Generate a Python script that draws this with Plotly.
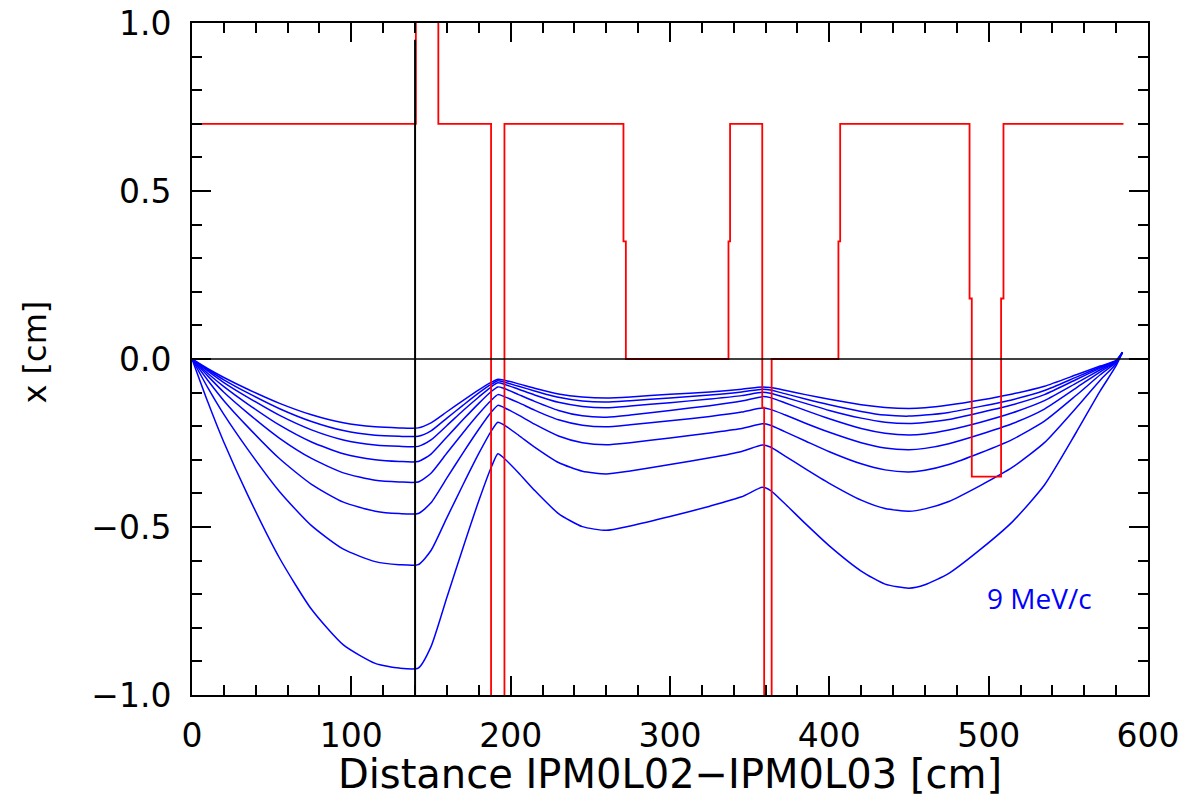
import plotly.graph_objects as go

# ---------------- data ----------------
dist = [0, 10, 20, 35, 55, 75, 95, 115, 130, 142, 150, 160, 170, 180, 188, 192,
        196, 205, 215, 230, 245, 260, 275, 300, 325, 345, 358, 363, 372, 385,
        400, 420, 435, 450, 460, 475, 495, 515, 535, 555, 570, 580, 584]

traj_1 = [0, -0.029, -0.055, -0.090, -0.132, -0.166, -0.190, -0.202, -0.205, -0.205,
          -0.190, -0.157, -0.124, -0.092, -0.069, -0.060,
          -0.063, -0.074, -0.087, -0.104, -0.113, -0.116,
          -0.113, -0.105, -0.098, -0.090, -0.083,
          -0.085, -0.093, -0.106, -0.120, -0.136, -0.144, -0.147,
          -0.145, -0.137, -0.122, -0.104, -0.081, -0.047, -0.021, -0.004, 0.02]
traj_2 = [0, -0.032, -0.062, -0.101, -0.148, -0.186, -0.213, -0.227, -0.230, -0.230,
          -0.214, -0.176, -0.138, -0.101, -0.075, -0.065,
          -0.069, -0.081, -0.095, -0.114, -0.125, -0.128,
          -0.124, -0.116, -0.107, -0.098, -0.090,
          -0.092, -0.103, -0.119, -0.136, -0.156, -0.167, -0.170,
          -0.167, -0.159, -0.141, -0.121, -0.094, -0.054, -0.024, -0.005, 0.02]
traj_3 = [0, -0.036, -0.070, -0.114, -0.168, -0.211, -0.241, -0.256, -0.260, -0.260,
          -0.241, -0.198, -0.154, -0.113, -0.082, -0.071,
          -0.075, -0.090, -0.107, -0.129, -0.141, -0.145,
          -0.140, -0.130, -0.119, -0.109, -0.099,
          -0.102, -0.114, -0.132, -0.153, -0.176, -0.188, -0.192,
          -0.189, -0.180, -0.159, -0.136, -0.106, -0.061, -0.027, -0.006, 0.02]
traj_4 = [0, -0.043, -0.082, -0.134, -0.197, -0.247, -0.282, -0.300, -0.305, -0.305,
          -0.283, -0.232, -0.181, -0.132, -0.096, -0.083,
          -0.088, -0.106, -0.126, -0.153, -0.169, -0.173,
          -0.167, -0.153, -0.139, -0.125, -0.112,
          -0.115, -0.130, -0.153, -0.178, -0.207, -0.221, -0.226,
          -0.223, -0.211, -0.188, -0.160, -0.124, -0.072, -0.032, -0.007, 0.02]
traj_5 = [0, -0.051, -0.099, -0.161, -0.236, -0.296, -0.339, -0.361, -0.366, -0.366,
          -0.340, -0.280, -0.220, -0.163, -0.122, -0.106,
          -0.112, -0.130, -0.152, -0.181, -0.197, -0.202,
          -0.196, -0.184, -0.171, -0.158, -0.146,
          -0.150, -0.166, -0.191, -0.218, -0.249, -0.265, -0.270,
          -0.266, -0.252, -0.224, -0.192, -0.149, -0.086, -0.038, -0.008, 0.02]
traj_6 = [0, -0.064, -0.124, -0.202, -0.297, -0.373, -0.426, -0.453, -0.460, -0.460,
          -0.428, -0.354, -0.280, -0.209, -0.157, -0.138,
          -0.145, -0.167, -0.194, -0.229, -0.249, -0.255,
          -0.249, -0.235, -0.220, -0.207, -0.193,
          -0.197, -0.216, -0.244, -0.276, -0.312, -0.330, -0.336,
          -0.331, -0.314, -0.279, -0.239, -0.185, -0.108, -0.047, -0.010, 0.02]
traj_7 = [0, -0.086, -0.165, -0.269, -0.395, -0.496, -0.566, -0.603, -0.612, -0.612,
          -0.570, -0.472, -0.375, -0.281, -0.213, -0.188,
          -0.197, -0.227, -0.262, -0.308, -0.334, -0.342,
          -0.333, -0.314, -0.294, -0.275, -0.256,
          -0.262, -0.288, -0.327, -0.370, -0.420, -0.445, -0.453,
          -0.446, -0.424, -0.376, -0.322, -0.249, -0.145, -0.063, -0.014, 0.02]
traj_8 = [0, -0.129, -0.248, -0.405, -0.593, -0.745, -0.851, -0.906, -0.920, -0.920,
          -0.856, -0.709, -0.563, -0.422, -0.320, -0.282,
          -0.296, -0.339, -0.391, -0.460, -0.499, -0.510,
          -0.497, -0.469, -0.438, -0.410, -0.382,
          -0.391, -0.430, -0.490, -0.556, -0.631, -0.670, -0.682,
          -0.672, -0.638, -0.566, -0.484, -0.375, -0.218, -0.095, -0.020, 0.02]
trajectories = [traj_1, traj_2, traj_3, traj_4, traj_5, traj_6, traj_7, traj_8]

# aperture profile (step outline); values beyond the frame are clipped
aper_x = [0, 140.5, 140.5, 154.6, 154.6, 187.7, 187.7, 196.1, 196.1, 270.8, 270.8,
          272.3, 272.3, 336.7, 336.7, 337.7, 337.7, 357.9, 357.9, 359.1, 359.1,
          363.8, 363.8, 405.7, 405.7, 406.8, 406.8, 488.0, 488.0, 489.4, 489.4,
          507.8, 507.8, 509.3, 509.3, 584.6]
aper_y = [0.7, 0.7, 2.0, 2.0, 0.7, 0.7, -2.0, -2.0, 0.7, 0.7, 0.35,
          0.35, 0.0, 0.0, 0.35, 0.35, 0.7, 0.7, -0.145, -0.145, -2.0,
          -2.0, 0.0, 0.0, 0.35, 0.35, 0.7, 0.7, 0.18, 0.18, -0.35,
          -0.35, 0.18, 0.18, 0.7, 0.7]

axis_x = [0, 600]
axis_y = [0, 0]
marker_x = [140, 140]
marker_y = [-1.0, 0.95]

x_ticks = [0, 100, 200, 300, 400, 500, 600]
y_ticks = [-1.0, -0.5, 0.0, 0.5, 1.0]
label_text = "9 MeV/c"
label_pos = (531.6, -0.71)

# ---------------- figure ----------------
fig = go.Figure()
for tr in trajectories:
    fig.add_trace(go.Scatter(x=dist, y=tr, mode="lines",
                             line=dict(color="#0000ff", width=1.5,
                                       shape="spline", smoothing=0.6),
                             showlegend=False, hoverinfo="skip"))
fig.add_trace(go.Scatter(x=aper_x, y=aper_y, mode="lines",
                         line=dict(color="#ff0000", width=1.8),
                         showlegend=False, hoverinfo="skip"))
fig.add_trace(go.Scatter(x=axis_x, y=axis_y, mode="lines",
                         line=dict(color="black", width=1.5),
                         showlegend=False, hoverinfo="skip"))
fig.add_trace(go.Scatter(x=marker_x, y=marker_y, mode="lines",
                         line=dict(color="black", width=2),
                         showlegend=False, hoverinfo="skip"))

fig.add_annotation(x=label_pos[0], y=label_pos[1], text=label_text,
                   showarrow=False, xref="x", yref="y",
                   font=dict(family="Open Sans", size=28, color="#0000ff"))
fig.add_annotation(x=-0.164, y=0.51, xref="paper", yref="paper",
                   xanchor="center", yanchor="middle",
                   text="x [cm]", textangle=-90, showarrow=False,
                   font=dict(family="DejaVu Sans", size=32, color="black"))

tickfont = dict(family="DejaVu Sans", size=33, color="black")
fig.update_xaxes(range=[0, 600], tickvals=x_ticks, ticks="inside", ticklen=19,
                 tickwidth=2, tickcolor="black", showline=True, linecolor="black",
                 linewidth=2, mirror="ticks", showgrid=False, zeroline=False,
                 tickfont=tickfont, ticklabelstandoff=10,
                 minor=dict(dtick=20, tick0=0, ticks="inside", ticklen=10,
                            tickwidth=2, tickcolor="black", showgrid=False),
                 title=dict(text="Distance IPM0L02\u2212IPM0L03 [cm]",
                            font=dict(family="DejaVu Sans", size=40, color="black"),
                            standoff=0))
fig.update_yaxes(range=[-1, 1], tickvals=y_ticks, tickformat=".1f", ticks="inside",
                 ticklen=19, tickwidth=2, tickcolor="black", showline=True,
                 linecolor="black", linewidth=2, mirror="ticks", showgrid=False,
                 zeroline=False, tickfont=tickfont, ticklabelstandoff=12,
                 minor=dict(dtick=0.1, tick0=0, ticks="inside", ticklen=10,
                            tickwidth=2, tickcolor="black", showgrid=False))

fig.update_layout(width=1186, height=797, plot_bgcolor="white", paper_bgcolor="white",
                  margin=dict(l=192, r=38, t=23, b=102, autoexpand=False))

# remove the default 8 px page margin so the figure fills the window exactly
fig.write_html("out.html", config={"displayModeBar": False},
               post_script="document.body.style.margin='0';document.body.style.overflow='hidden';")
